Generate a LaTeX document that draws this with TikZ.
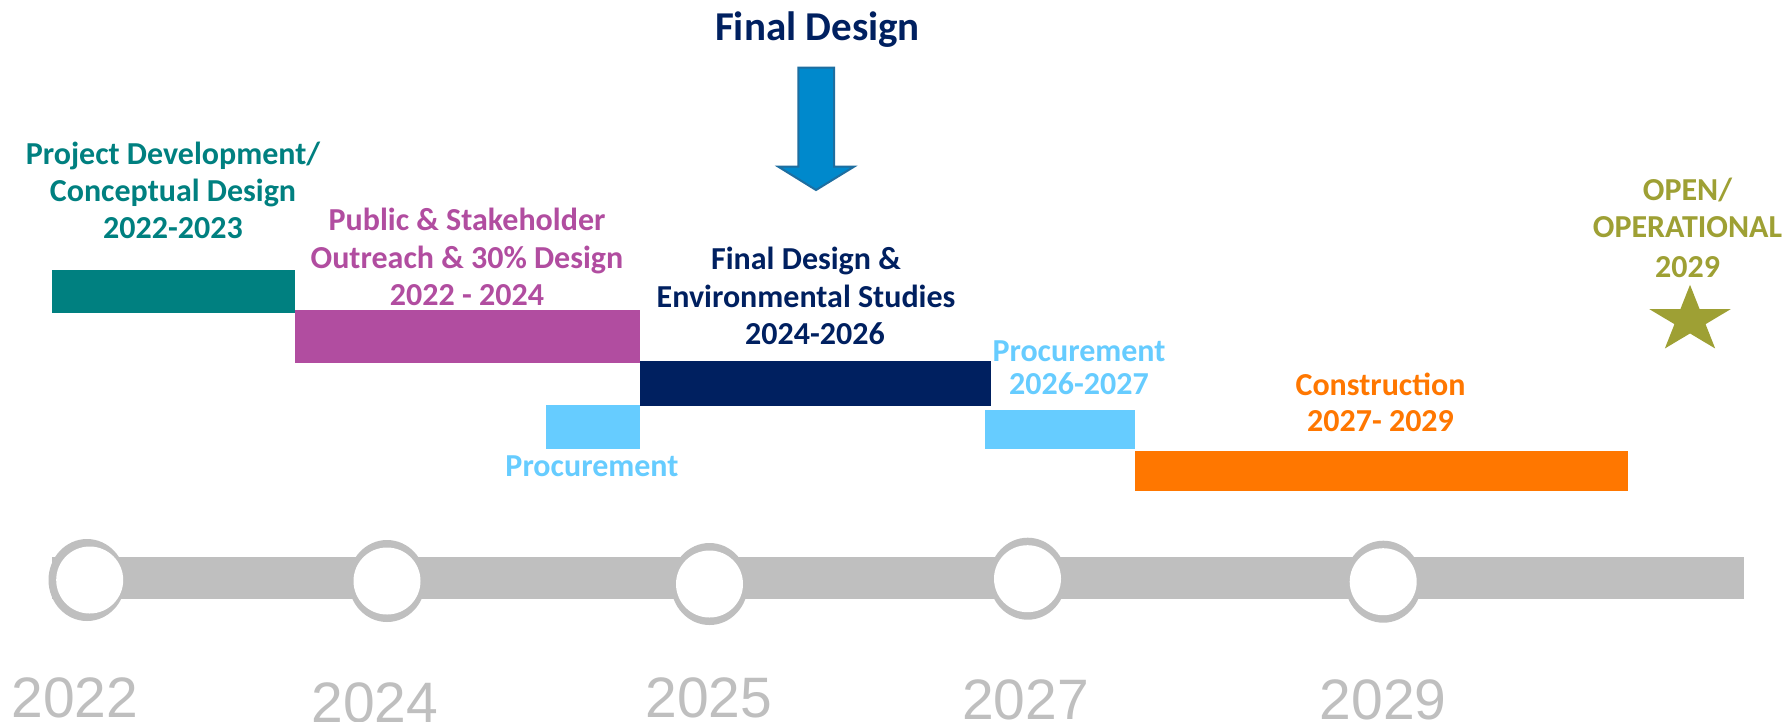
\documentclass[tikz,border=0pt]{standalone}
\usepackage{fontspec}
\setmainfont{Carlito}
\newfontfamily\yearfont{Liberation Sans}
\definecolor{tealc}{RGB}{0,128,128}
\definecolor{magc}{RGB}{177,77,160}
\definecolor{navyc}{RGB}{0,32,96}
\definecolor{lbluec}{RGB}{102,204,255}
\definecolor{orangec}{RGB}{255,119,0}
\definecolor{olivec}{RGB}{158,160,52}
\definecolor{grayc}{RGB}{191,191,191}
\definecolor{arrowfill}{RGB}{0,137,204}
\definecolor{arrowline}{RGB}{30,110,160}
\newcommand\mylines[2]{{\fontsize{32}{#1}\selectfont\begin{tabular}[t]{@{}c@{}}#2\end{tabular}}}
\tikzset{
  txt/.style={anchor=base, inner sep=0pt, font=\bfseries},
  yearlbl/.style={anchor=base, inner sep=0pt, text=grayc, font=\yearfont\fontsize{57}{68}\selectfont},
  ring/.style={fill=grayc},
  hole/.style={fill=white}
}
\begin{document}
\begin{tikzpicture}[x=1pt,y=-1pt]
\useasboundingbox[fill=white] (0,0) rectangle (1790,721);

% title and block arrow
\node[txt, text=navyc, font=\bfseries\fontsize{41}{49}\selectfont] (fd) at (817.5,40.7) {Final Design};
\draw[fill=arrowfill, draw=arrowline, line width=2pt, line join=miter]
  (798.3,67.7) -- (834,67.7) -- (834,166.7) -- (854,166.7) -- (816,190)
  -- (778.3,166.7) -- (798.3,166.7) -- cycle;

% gantt bars
\fill[tealc]   (52,270)   rectangle (295,312.7);
\fill[magc]    (295,310)  rectangle (640,362.7);
\fill[navyc]   (640,360.7) rectangle (991,405.7);
\fill[lbluec]  (546,405)  rectangle (640,448.7);
\fill[lbluec]  (985,410)  rectangle (1135,449.3);
\fill[orangec] (1135,451) rectangle (1628,490.7);

% labels
\node[txt, text=tealc] (pd) at (173,164) {\mylines{37}{Project Development/\\Conceptual Design\\2022-2023}};
\node[txt, text=magc] (ps) at (467,230.7) {\mylines{37.5}{Public \& Stakeholder\\Outreach \& 30\% Design\\2022 - 2024}};
\node[txt, text=navyc] (fe) at (806,269.3) {\mylines{37.8}{Final Design \&\\Environmental Studies\\\hspace*{18pt}2024-2026}};
\node[txt, text=lbluec] (pr1) at (592,476) {\fontsize{32}{37}\selectfont Procurement};
\node[txt, text=lbluec] (pr2) at (1079,361.7) {\mylines{33}{Procurement\\2026-2027}};
\node[txt, text=orangec] (con) at (1380.5,395) {\mylines{36}{Construction\\2027- 2029}};
\node[txt, text=olivec] (op) at (1687.5,200) {\mylines{37.3}{OPEN/\\OPERATIONAL\\[3pt]2029}};

% star
\begin{scope}[shift={(1690,320)}, x=42.8pt, y=35.2pt]
  \fill[olivec] (90:1) -- (126:0.382) -- (162:1) -- (198:0.382) -- (234:1)
    -- (270:0.382) -- (306:1) -- (342:0.382) -- (18:1) -- (54:0.382) -- cycle;
\end{scope}

% timeline
\fill[grayc] (51.7,557) rectangle (1744,599);
\foreach \cx/\cy/\ix in {87/580/89.7, 387/581/387, 709.5/584/709.5, 1027.7/578.7/1027.5, 1383.3/581.7/1383.2}{
  \fill[ring] (\cx,\cy) ellipse [x radius=38.5, y radius=41];
  \fill[hole] (\ix,\cy) circle [radius=33.5];
}

% years
\node[yearlbl] (y22) at (75,717) {2022};
\node[yearlbl] (y24) at (375,722.4) {2024};
\node[yearlbl] (y25) at (709,717) {2025};
\node[yearlbl] (y27) at (1025.6,719) {2027};
\node[yearlbl] (y29) at (1383,719) {2029};
\end{tikzpicture}
\end{document}
